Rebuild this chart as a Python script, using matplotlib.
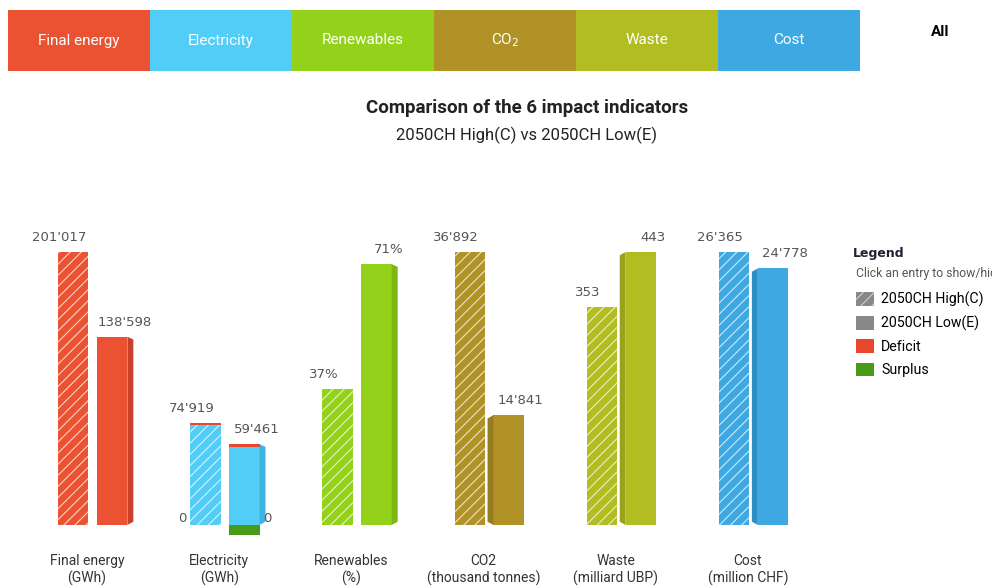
import matplotlib
matplotlib.use("Agg")
import matplotlib.pyplot as plt
from matplotlib.patches import Patch, Polygon
import numpy as np

# data
categories = ["Final energy", "Electricity", "Renewables", "CO2", "Waste", "Cost"]
units = ["(GWh)", "(GWh)", "(%)", "(thousand tonnes)", "(milliard UBP)", "(million CHF)"]
tabs = ["Final energy", "Electricity", "Renewables", "CO$_2$", "Waste", "Cost"]
high = [201017, 74919, 37, 36892, 353, 26365]
low = [138598, 59461, 71, 14841, 443, 24778]
high_lbl = ["201'017", "74'919", "37%", "36'892", "353", "26'365"]
low_lbl = ["138'598", "59'461", "71%", "14'841", "443", "24'778"]
scale_max = [201017, 201017, 74.3, 36892, 443, 26365]   # per-axis max
deficit_high = [0, 1500, 0, 0, 0, 0]
deficit_low = [0, 2200, 0, 0, 0, 0]
surplus_low = [0, 7000, 0, 0, 0, 0]

colors = ["#ea5232", "#52cdf8", "#93d11b", "#b19226", "#b2bd21", "#3da8e2"]
sides = ["#c9412a", "#3fb4df", "#7db714", "#977c1f", "#98a21a", "#2f8fc4"]
tab_colors = ["#ea5232", "#52cdf8", "#93d11b", "#b19226", "#b2bd21", "#3da8e2"]
RED = "#e8472e"
GREEN = "#4a9a1a"
narrow = ["Roboto", "DejaVu Sans"]

plt.rcParams["hatch.linewidth"] = 0.8
fig = plt.figure(figsize=(9.92, 5.88), dpi=100)

# tab bar
tax = fig.add_axes([8 / 992, 1 - 71 / 588, 852 / 992, 61 / 588])
tax.bar(np.arange(6), 1, width=1, color=tab_colors, align="edge")
for i, t in enumerate(tabs):
    tax.text(i + 0.5, 0.5, t, color="white", ha="center", va="center",
             fontsize=11, family=narrow)
tax.set_xlim(0, 6)
tax.set_ylim(0, 1)
tax.axis("off")
fig.text(940 / 992, 1 - 32 / 588, "All", ha="center", va="center",
         fontsize=11, fontweight="bold", family=narrow)

fig.text(527 / 992, 1 - 108 / 588, "Comparison of the 6 impact indicators",
         ha="center", va="center", fontsize=13.5, fontweight="bold",
         color="#222222", family=narrow)
fig.text(527 / 992, 1 - 135 / 588, "2050CH High(C) vs 2050CH Low(E)",
         ha="center", va="center", fontsize=12, color="#222222", family=narrow)

# main chart
ax = fig.add_axes([21 / 992, 1 - 540 / 588, 793 / 992, 320 / 588])
ax.set_xlim(-0.5, 5.5)
ax.set_ylim(-15 / 273, 305 / 273)
ax.axis("off")

x = np.arange(6)
w = 0.23
xh = x - 0.105
xl = x + 0.19
hh = np.array(high) / np.array(scale_max)
hl = np.array(low) / np.array(scale_max)
d = 0.045

ax.bar(xh, hh, width=w, color=colors, edgecolor=(1, 1, 1, 0.75), linewidth=0, hatch="///")
ax.bar(xl, hl, width=w, color=colors, linewidth=0)

# side faces of the Low bars
for i in range(6):
    if i < 3:
        xs = xl[i] + w / 2
        pts = [(xs, 0), (xs + d, 0.012), (xs + d, hl[i] - 0.01), (xs, hl[i])]
    else:
        xs = xl[i] - w / 2
        pts = [(xs, 0), (xs - d, 0.012), (xs - d, hl[i] - 0.012), (xs, hl[i])]
    ax.add_patch(Polygon(pts, closed=True, facecolor=sides[i], edgecolor="none"))

# deficit / surplus parts
dh = np.array(deficit_high) / np.array(scale_max)
dl = np.array(deficit_low) / np.array(scale_max)
sl = np.array(surplus_low) / np.array(scale_max)
ax.bar(xh, dh, bottom=hh - dh, width=w, color=RED, linewidth=0)
ax.bar(xl, dl, bottom=hl - dl, width=w, color=RED, linewidth=0)
ax.bar(xl, -sl, width=w, color=GREEN, linewidth=0)
for i in range(6):
    if surplus_low[i] > 0 or deficit_high[i] > 0:
        ax.annotate("0", (xh[i] - w / 2, 0), xytext=(-4, 0), textcoords="offset pixels",
                    ha="right", va="bottom", fontsize=9.5, color="#555555")
        ax.annotate("0", (xl[i] + w / 2, 0), xytext=(4, 0), textcoords="offset pixels",
                    ha="left", va="bottom", fontsize=9.5, color="#555555")

for i in range(6):
    ax.annotate(high_lbl[i], (xh[i], hh[i]), xytext=(-14, 8), textcoords="offset pixels",
                ha="center", va="bottom", fontsize=9.5, color="#555555")
    ax.annotate(low_lbl[i], (xl[i], hl[i]), xytext=(12, 8), textcoords="offset pixels",
                ha="center", va="bottom", fontsize=9.5, color="#555555")
    ax.text(x[i], -36 / 273, categories[i], ha="center", va="center",
            fontsize=10, color="#333333", family=narrow)
    ax.text(x[i], -53 / 273, units[i], ha="center", va="center",
            fontsize=10, color="#333333", family=narrow)

# legend
fig.text(853 / 992, 1 - 254 / 588, "Legend", fontsize=9, fontweight="bold",
         color="#222233", va="center")
fig.text(856 / 992, 1 - 274 / 588, "Click an entry to show/hide", fontsize=8.8,
         color="#555555", va="center", family=narrow)
handles = [Patch(facecolor="#888888", edgecolor=(1, 1, 1, 0.6), linewidth=0, hatch="///"),
           Patch(facecolor="#888888", linewidth=0),
           Patch(facecolor=RED, linewidth=0),
           Patch(facecolor=GREEN, linewidth=0)]
names = ["2050CH High(C)", "2050CH Low(E)", "Deficit", "Surplus"]
fig.legend(handles, names, loc="upper left", bbox_to_anchor=(843 / 992, 1 - 279 / 588),
           frameon=False, handlelength=1.3, handleheight=1.1,
           handletextpad=0.5, labelspacing=0.6, prop={"family": narrow, "size": 10.2})

fig.savefig("out.png", dpi=100)
